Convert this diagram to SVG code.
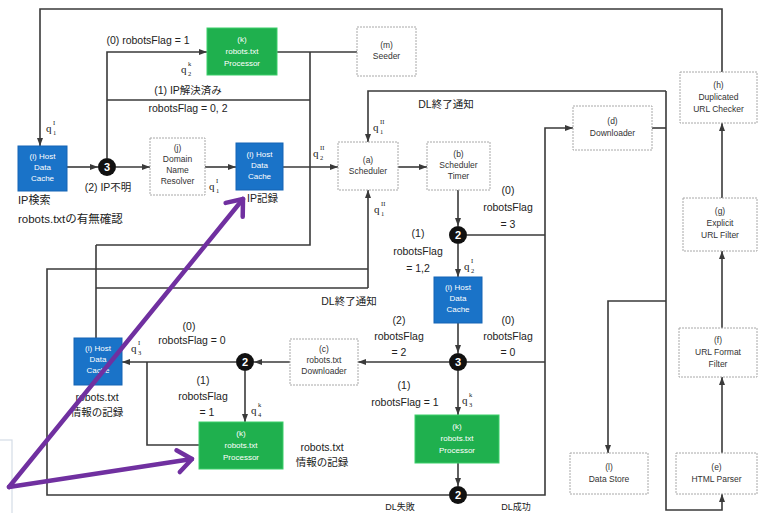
<svg xmlns="http://www.w3.org/2000/svg" width="758" height="513" viewBox="0 0 758 513">
<style>
.ln{fill:none;stroke:#3a3a3a;stroke-width:1.6}
.ar{marker-end:url(#ah)}
.wb{fill:#fff;stroke:#a8a8a8;stroke-width:1;stroke-dasharray:2 1}
.bb{fill:#1a73c8;stroke:#1565b5;stroke-width:1}
.gb{fill:#1fb04e;stroke:#3ccf6a;stroke-width:1}
text{font-family:"Liberation Sans","Noto Sans CJK JP",sans-serif}
.t{font-size:10.5px;fill:#222;text-anchor:middle}
.tl{font-size:10.5px;fill:#222}
.bt{font-size:8px;fill:#fff;text-anchor:middle}
.nt{font-size:8.5px;fill:#333;text-anchor:middle}
.q{font-family:"Liberation Serif",serif;font-size:11px;fill:#222}
.qs{font-family:"Liberation Serif",serif;font-size:6.5px;fill:#222}
.cc{fill:#111}
.ct{font-size:11px;font-weight:bold;fill:#fff;text-anchor:middle}
.pp{fill:none;stroke:#7030a0;stroke-width:4.5;stroke-linecap:round;marker-end:url(#pa)}
</style>
<defs>
<marker id="ah" markerUnits="userSpaceOnUse" markerWidth="8" markerHeight="6" refX="8" refY="3" orient="auto"><path d="M0,0 L8,3 L0,6 z" fill="#3a3a3a"/></marker>
<marker id="pa" markerUnits="userSpaceOnUse" markerWidth="30" markerHeight="30" refX="15" refY="12" orient="auto" overflow="visible"><path d="M1,1 L15,12 L1,23" fill="none" stroke="#7030a0" stroke-width="4.5" stroke-linecap="round" stroke-linejoin="round"/></marker>
</defs>
<rect width="758" height="513" fill="#fff"/>
<rect x="-2" y="440" width="14" height="80" fill="#fff" stroke="#d4dce6" stroke-width="1.2"/>

<g id="connectors">
<path class="ln ar" d="M722,72 V9 H40 V146"/>
<path class="ln ar" d="M67,167 H98"/>
<path class="ln ar" d="M116,167 H150"/>
<path class="ln ar" d="M205,167 H236"/>
<path class="ln ar" d="M283,167 H338"/>
<path class="ln ar" d="M107,158 V52 H207"/>
<path class="ln" d="M107,100 H310"/>
<path class="ln" d="M277,52 H357"/>
<path class="ln" d="M310,52 V245 H96"/>
<path class="ln" d="M96,338 V245"/>
<path class="ln ar" d="M398,167 H427"/>
<path class="ln ar" d="M458,190 V226"/>
<path class="ln" d="M467,235 H545"/>
<path class="ln ar" d="M458,244 V277"/>
<path class="ln ar" d="M458,323 V353"/>
<path class="ln" d="M467,362 H545"/>
<path class="ln ar" d="M449,362 H358"/>
<path class="ln ar" d="M290,362 H254"/>
<path class="ln ar" d="M236,362 H122"/>
<path class="ln ar" d="M245,371 V422"/>
<path class="ln" d="M199,445 H147 V362"/>
<path class="ln ar" d="M458,371 V415"/>
<path class="ln ar" d="M458,463 V486"/>
<path class="ln" d="M449,495 H47 V269 H368"/>
<path class="ln" d="M96,288 H368"/>
<path class="ln ar" d="M368,288 V190"/>
<path class="ln ar" d="M467,495 H545 V128 H573"/>
<path class="ln" d="M652,128 H666"/>
<path class="ln ar" d="M666,91 V510 H722 V494"/>
<path class="ln ar" d="M666,91 H368 V142"/>
<path class="ln ar" d="M666,301 H608 V453"/>
<path class="ln ar" d="M722,453 V377"/>
<path class="ln ar" d="M722,328 V251"/>
<path class="ln ar" d="M722,198 V123"/>
</g>

<g id="n_i1"><rect class="bb" x="18" y="146" width="49" height="45"/><text class="bt" x="42.5" y="159">(i) Host</text><text class="bt" x="42.5" y="170">Data</text><text class="bt" x="42.5" y="181">Cache</text></g>
<g id="n_j"><rect class="wb" x="150" y="138" width="55" height="57"/><text class="nt" x="177.5" y="151">(j)</text><text class="nt" x="177.5" y="162">Domain</text><text class="nt" x="177.5" y="173">Name</text><text class="nt" x="177.5" y="184">Resolver</text></g>
<g id="n_i2"><rect class="bb" x="236" y="143" width="47" height="47"/><text class="bt" x="259.5" y="157">(i) Host</text><text class="bt" x="259.5" y="168">Data</text><text class="bt" x="259.5" y="179">Cache</text></g>
<g id="n_k1"><rect class="gb" x="207" y="28" width="70" height="47"/><text class="bt" x="242" y="42">(k)</text><text class="bt" x="242" y="54">robots.txt</text><text class="bt" x="242" y="66">Processor</text></g>
<g id="n_m"><rect class="wb" x="357" y="27" width="59" height="49"/><text class="nt" x="386.5" y="48">(m)</text><text class="nt" x="386.5" y="59">Seeder</text></g>
<g id="n_a"><rect class="wb" x="338" y="142" width="60" height="48"/><text class="nt" x="368" y="163">(a)</text><text class="nt" x="368" y="174">Scheduler</text></g>
<g id="n_b"><rect class="wb" x="427" y="142" width="63" height="48"/><text class="nt" x="458.5" y="157">(b)</text><text class="nt" x="458.5" y="168">Scheduler</text><text class="nt" x="458.5" y="179">Timer</text></g>
<g id="n_i3"><rect class="bb" x="434" y="277" width="48" height="46"/><text class="bt" x="458" y="290">(i) Host</text><text class="bt" x="458" y="301">Data</text><text class="bt" x="458" y="312">Cache</text></g>
<g id="n_c"><rect class="wb" x="290" y="339" width="68" height="46"/><text class="nt" x="324" y="352">(c)</text><text class="nt" x="324" y="363">robots.txt</text><text class="nt" x="324" y="374">Downloader</text></g>
<g id="n_i4"><rect class="bb" x="74" y="338" width="48" height="47"/><text class="bt" x="98" y="351">(i) Host</text><text class="bt" x="98" y="362">Data</text><text class="bt" x="98" y="373">Cache</text></g>
<g id="n_k2"><rect class="gb" x="199" y="422" width="84" height="47"/><text class="bt" x="241" y="436">(k)</text><text class="bt" x="241" y="448">robots.txt</text><text class="bt" x="241" y="460">Processor</text></g>
<g id="n_k3"><rect class="gb" x="415" y="415" width="84" height="48"/><text class="bt" x="457" y="429">(k)</text><text class="bt" x="457" y="441">robots.txt</text><text class="bt" x="457" y="453">Processor</text></g>
<g id="n_d"><rect class="wb" x="573" y="106" width="79" height="44"/><text class="nt" x="612.5" y="124">(d)</text><text class="nt" x="612.5" y="136">Downloader</text></g>
<g id="n_h"><rect class="wb" x="680" y="72" width="77" height="51"/><text class="nt" x="718.5" y="88">(h)</text><text class="nt" x="718.5" y="100">Duplicated</text><text class="nt" x="718.5" y="112">URL Checker</text></g>
<g id="n_g"><rect class="wb" x="683" y="198" width="74" height="53"/><text class="nt" x="720" y="214">(g)</text><text class="nt" x="720" y="226">Explicit</text><text class="nt" x="720" y="238">URL Filter</text></g>
<g id="n_f"><rect class="wb" x="679" y="328" width="78" height="49"/><text class="nt" x="718" y="343">(f)</text><text class="nt" x="718" y="355">URL Format</text><text class="nt" x="718" y="367">Filter</text></g>
<g id="n_e"><rect class="wb" x="676" y="453" width="81" height="41"/><text class="nt" x="716.5" y="470">(e)</text><text class="nt" x="716.5" y="482">HTML Parser</text></g>
<g id="n_l"><rect class="wb" x="570" y="453" width="78" height="41"/><text class="nt" x="609" y="470">(l)</text><text class="nt" x="609" y="482">Data Store</text></g>

<g id="n_c3a"><circle class="cc" cx="107" cy="167" r="9"/><text class="ct" x="107" y="171">3</text></g>
<g id="n_c2a"><circle class="cc" cx="458" cy="235" r="9"/><text class="ct" x="458" y="239">2</text></g>
<g id="n_c3b"><circle class="cc" cx="458" cy="362" r="9"/><text class="ct" x="458" y="366">3</text></g>
<g id="n_c2b"><circle class="cc" cx="245" cy="362" r="9"/><text class="ct" x="245" y="366">2</text></g>
<g id="n_c2c"><circle class="cc" cx="458" cy="495" r="9"/><text class="ct" x="458" y="499">2</text></g>

<g id="labels">
<text class="t" x="148" y="44">(0) robotsFlag = 1</text>
<text class="t" x="188" y="94">(1) IP解決済み</text>
<text class="t" x="188" y="112">robotsFlag = 0, 2</text>
<text class="t" x="108" y="191">(2) IP不明</text>
<text class="tl" x="18" y="204" style="font-size:11px">IP検索</text>
<text class="tl" x="18" y="223" style="font-size:11.5px">robots.txtの有無確認</text>
<text class="tl" x="247" y="202">IP記録</text>
<text class="t" x="446" y="108">DL終了通知</text>
<text class="t" x="349" y="305">DL終了通知</text>
<text class="t" x="508" y="194">(0)</text>
<text class="t" x="508" y="211">robotsFlag</text>
<text class="t" x="508" y="228">= 3</text>
<text class="t" x="418" y="237">(1)</text>
<text class="t" x="418" y="255">robotsFlag</text>
<text class="t" x="418" y="272">= 1,2</text>
<text class="t" x="399" y="324">(2)</text>
<text class="t" x="399" y="340">robotsFlag</text>
<text class="t" x="399" y="356">= 2</text>
<text class="t" x="508" y="324">(0)</text>
<text class="t" x="508" y="340">robotsFlag</text>
<text class="t" x="508" y="356">= 0</text>
<text class="t" x="404" y="389">(1)</text>
<text class="t" x="405" y="406">robotsFlag = 1</text>
<text class="t" x="189" y="330">(0)</text>
<text class="t" x="192" y="344">robotsFlag = 0</text>
<text class="t" x="203" y="384">(1)</text>
<text class="t" x="203" y="400">robotsFlag</text>
<text class="t" x="207" y="416">= 1</text>
<text class="t" x="322" y="451">robots.txt</text>
<text class="t" x="322" y="466">情報の記録</text>
<text class="t" x="97" y="401">robots.txt</text>
<text class="t" x="97" y="416">情報の記録</text>
<text class="t" x="400" y="510" style="font-size:9px">DL失敗</text>
<text class="t" x="516" y="510" style="font-size:9px">DL成功</text>
<text class="q" x="46" y="132">q</text><text class="qs" x="53" y="125">I</text><text class="qs" x="53" y="135">1</text>
<text class="q" x="181" y="73">q</text><text class="qs" x="188" y="66">k</text><text class="qs" x="188" y="76">2</text>
<text class="q" x="209" y="190">q</text><text class="qs" x="216" y="183">I</text><text class="qs" x="216" y="193">1</text>
<text class="q" x="313" y="157">q</text><text class="qs" x="320" y="150">II</text><text class="qs" x="320" y="160">2</text>
<text class="q" x="373" y="131">q</text><text class="qs" x="380" y="124">II</text><text class="qs" x="380" y="134">1</text>
<text class="q" x="374" y="213">q</text><text class="qs" x="381" y="206">II</text><text class="qs" x="381" y="216">1</text>
<text class="q" x="464" y="270">q</text><text class="qs" x="471" y="263">I</text><text class="qs" x="471" y="273">2</text>
<text class="q" x="131" y="352">q</text><text class="qs" x="138" y="345">I</text><text class="qs" x="138" y="355">3</text>
<text class="q" x="251" y="414">q</text><text class="qs" x="258" y="407">k</text><text class="qs" x="258" y="417">4</text>
<text class="q" x="462" y="404">q</text><text class="qs" x="469" y="397">k</text><text class="qs" x="469" y="407">3</text>
</g>

<g id="annotation">
<path class="pp" d="M9,487 L243,199"/>
<path class="pp" d="M9,487 L192,459"/>
</g>
</svg>
